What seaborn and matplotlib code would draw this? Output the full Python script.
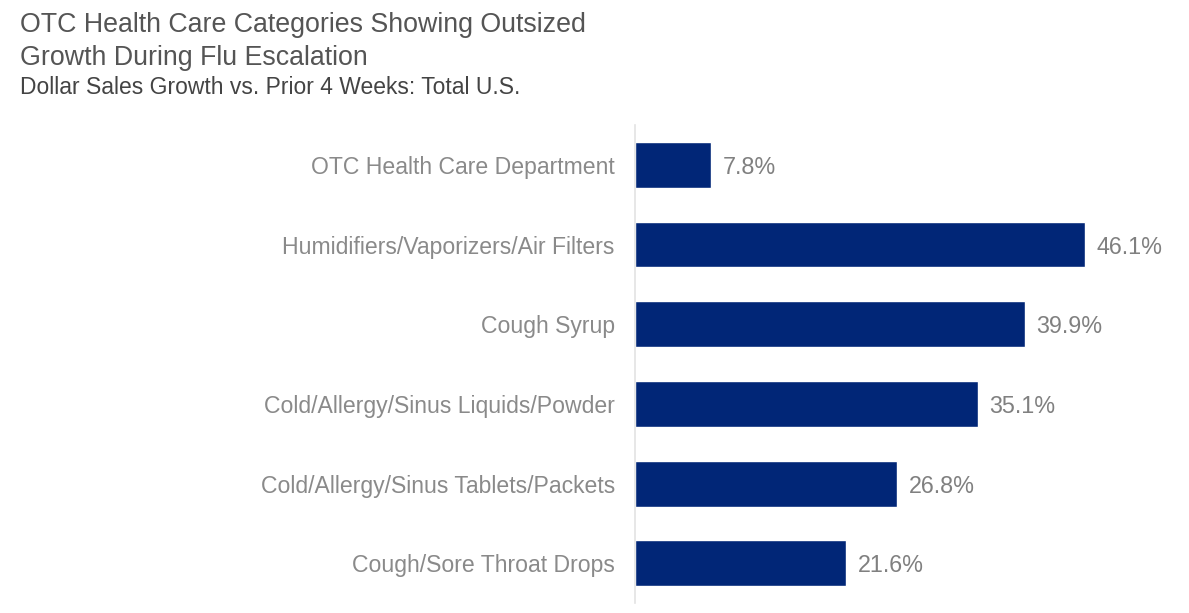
import matplotlib
matplotlib.use("Agg")
import matplotlib.pyplot as plt
import seaborn as sns
import pandas as pd

categories = [
    "OTC Health Care Department",
    "Humidifiers/Vaporizers/Air Filters",
    "Cough Syrup",
    "Cold/Allergy/Sinus Liquids/Powder",
    "Cold/Allergy/Sinus Tablets/Packets",
    "Cough/Sore Throat Drops",
]
growth = [7.8, 46.1, 39.9, 35.1, 26.8, 21.6]

title_lines = ["OTC Health Care Categories Showing Outsized",
               "Growth During Flu Escalation"]
subtitle = "Dollar Sales Growth vs. Prior 4 Weeks: Total U.S."

sns.set_style("white")
plt.rcParams['font.family'] = ['Liberation Sans', 'DejaVu Sans']

df = pd.DataFrame({"category": categories, "growth": growth})

fig = plt.figure(figsize=(11.89, 6.13), dpi=100)
ax = fig.add_axes([0.534, 0.016, 0.46, 0.78])

sns.barplot(data=df, x="growth", y="category", color="#012677",
            saturation=1, width=0.575, ax=ax)

for i, v in enumerate(growth):
    ax.text(v + 1.2, i, f"{v}%", va="center_baseline", ha="left",
            fontsize=16.8, color="#808080")

ax.set_xlim(0, 56)
ax.set_ylim(5.5, -0.5)
ax.set_xlabel("")
ax.set_ylabel("")
ax.set_xticks([])
ax.tick_params(axis="y", length=0, pad=14.5, labelsize=16.6, labelcolor="#8a8a8a")
for s in ["top", "right", "bottom"]:
    ax.spines[s].set_visible(False)
ax.spines["left"].set_color("#e3e3e3")
ax.spines["left"].set_linewidth(1.2)

# title lines placed by baseline (pixels from top: 33, 66), subtitle at 95
H = 613
fig.text(0.017, 1 - 32 / H, title_lines[0], fontsize=19.3, color="#555555",
         va="baseline", ha="left")
fig.text(0.017, 1 - 65 / H, title_lines[1], fontsize=19.3, color="#555555",
         va="baseline", ha="left")
fig.text(0.017, 1 - 94 / H, subtitle, fontsize=16.5, color="#444444",
         va="baseline", ha="left")

fig.savefig("out.png", dpi=100)
